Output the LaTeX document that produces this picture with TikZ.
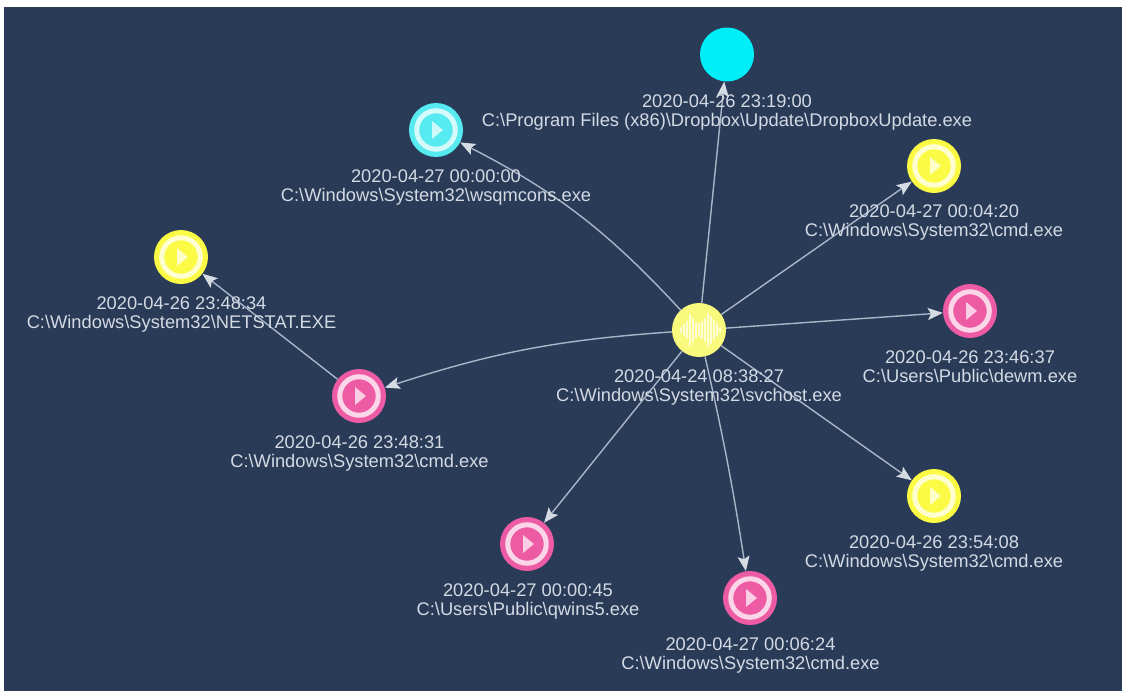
\documentclass[tikz,border=0pt]{standalone}
\usepackage{fontspec}
\setmainfont{Liberation Sans}
\usetikzlibrary{arrows.meta}
\definecolor{bgc}{HTML}{2A3B58}
\definecolor{lbl}{HTML}{D3DAE3}
\definecolor{edgec}{HTML}{A9B6C8}
\definecolor{tipc}{HTML}{D5DBE3}
\definecolor{ycol}{HTML}{FBFB45}
\definecolor{pcol}{HTML}{EE5BA5}
\definecolor{ccol}{HTML}{55EBF0}
\definecolor{scol}{HTML}{F9F97E}
\definecolor{acol}{HTML}{00EEF8}
\tikzset{
  proc/.style={circle,minimum size=54pt,inner sep=0pt,fill=#1},
  ring/.style={circle,minimum size=38.5pt,inner sep=0pt,draw=white!75!#1,line width=5pt},
  lab/.style={text=lbl,font=\fontsize{18.3}{18.7}\selectfont,align=center,inner sep=0pt,anchor=north},
  link/.style={draw=edgec,line width=1.4pt,-{Stealth[length=15pt,width=12pt,inset=3pt,fill=tipc,color=tipc]}}
}
\newcommand{\playtri}[2]{\fill[white!70!#2] ([shift={(-4,-9)}]#1.center) -- ([shift={(7,0)}]#1.center) -- ([shift={(-4,9)}]#1.center) -- cycle;}
\begin{document}
\begin{tikzpicture}[x=1pt,y=-1pt]
\useasboundingbox (0,0) rectangle (1123,691);
\fill[white] (0,0) rectangle (1123,691);
\fill[bgc] (4,7) rectangle (1122,691);
% nodes
\node[proc=scol] (svc) at (699,330) {};
\node[proc=acol] (drop) at (727,54.5) {};
\node[proc=ccol] (wsq) at (436,130) {};
\node[proc=ycol] (cmdA) at (934,166) {};
\node[proc=ycol] (net) at (181,257) {};
\node[proc=pcol] (dewm) at (970,311) {};
\node[proc=pcol] (cmdB) at (359,396) {};
\node[proc=ycol] (cmdC) at (934,496) {};
\node[proc=pcol] (qw) at (527,544) {};
\node[proc=pcol] (cmdD) at (750,598) {};
% rings and play marks
\foreach \n/\c in {wsq/ccol,cmdA/ycol,net/ycol,dewm/pcol,cmdB/pcol,cmdC/ycol,qw/pcol,cmdD/pcol}{
  \node[ring=\c] at (\n) {};
  \playtri{\n}{\c}
}
% waveform on the root node
\foreach \dx/\h in {-18/2,-15/5,-12/8,-9/15,-6/11,-3/7,0/6,3/8,6/11,9/16,12/13,15/9,18/6,21/2}{
  \draw[white!70!scol,line width=2.6pt,line cap=round] ([shift={(\dx,-\h)}]svc.center) -- ([shift={(\dx,\h)}]svc.center);
}
% edges
\draw[link] (svc) -- (drop);
\draw[link] (svc) to[bend right=10] (wsq);
\draw[link] (svc) -- (cmdA);
\draw[link] (svc) -- (dewm);
\draw[link] (svc) -- (cmdC);
\draw[link] (svc) to[bend left=2] (cmdD);
\draw[link] (svc) -- (qw);
\draw[link] (svc) to[bend right=7] (cmdB);
\draw[link] (cmdB) -- (net);
% labels
\node[lab] (l1) at (699,369.5) {2020-04-24 08:38:27\\C:\textbackslash Windows\textbackslash System32\textbackslash svchost.exe};
\node[lab] (l2) at (727,94.5) {2020-04-26 23:19:00\\C:\textbackslash Program Files (x86)\textbackslash Dropbox\textbackslash Update\textbackslash DropboxUpdate.exe};
\node[lab] (l3) at (436,169.5) {2020-04-27 00:00:00\\C:\textbackslash Windows\textbackslash System32\textbackslash wsqmcons.exe};
\node[lab] (l4) at (934,205) {2020-04-27 00:04:20\\C:\textbackslash Windows\textbackslash System32\textbackslash cmd.exe};
\node[lab] (l5) at (181.5,296.5) {2020-04-26 23:48:34\\C:\textbackslash Windows\textbackslash System32\textbackslash NETSTAT.EXE};
\node[lab] (l6) at (970,350.5) {2020-04-26 23:46:37\\C:\textbackslash Users\textbackslash Public\textbackslash dewm.exe};
\node[lab] (l7) at (359.5,435.5) {2020-04-26 23:48:31\\C:\textbackslash Windows\textbackslash System32\textbackslash cmd.exe};
\node[lab] (l8) at (934,535.5) {2020-04-26 23:54:08\\C:\textbackslash Windows\textbackslash System32\textbackslash cmd.exe};
\node[lab] (l9) at (528,583.5) {2020-04-27 00:00:45\\C:\textbackslash Users\textbackslash Public\textbackslash qwins5.exe};
\node[lab] (l10) at (750.5,637.5) {2020-04-27 00:06:24\\C:\textbackslash Windows\textbackslash System32\textbackslash cmd.exe};
\end{tikzpicture}
\end{document}
